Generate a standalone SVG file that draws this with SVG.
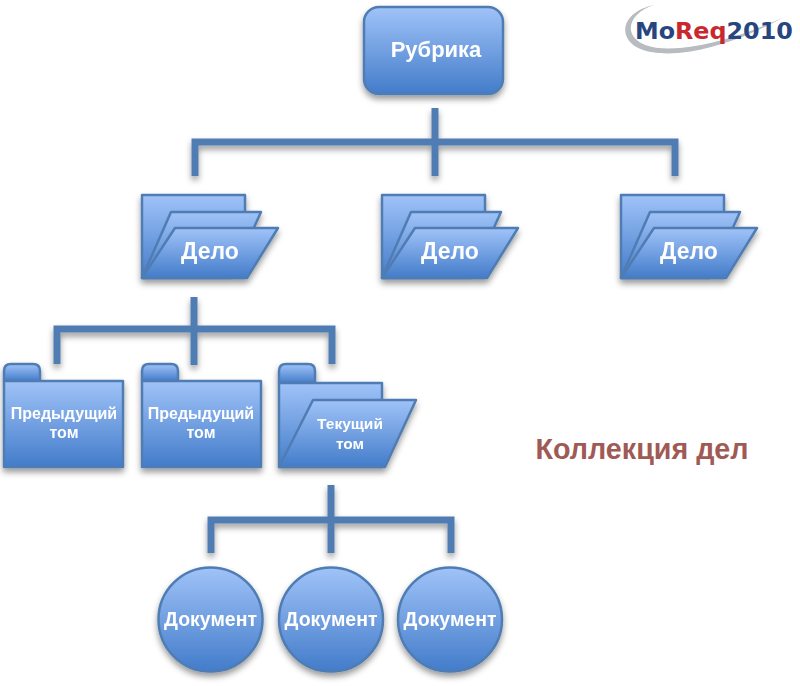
<svg xmlns="http://www.w3.org/2000/svg" width="800" height="686" viewBox="0 0 800 686">
<style>
.n{fill:url(#g);stroke:#4f7db3;stroke-width:2.5;stroke-linejoin:round}
.c{fill:none;stroke:#4f7db3;stroke-width:7;stroke-linecap:butt;stroke-linejoin:miter}
text{font-family:"Liberation Sans",Arial,sans-serif;font-weight:bold;text-anchor:middle;fill:#fff}
.r{font-size:22px}.l{font-size:23px}.s{font-size:16px}.t{font-size:15.500px}.d{font-size:19.500px}
</style>
<defs>
<linearGradient id="g" x1="0" y1="0" x2="0" y2="1"><stop offset="0" stop-color="#a0c3f8"/><stop offset="1" stop-color="#437cca"/></linearGradient>
<filter id="sh" x="-20%" y="-20%" width="140%" height="140%"><feDropShadow dx="0" dy="4" stdDeviation="3" flood-color="#000" flood-opacity=".4"/></filter>
<g id="case">
<path class="n" d="M142 195H245V278H142Z"/>
<path class="n" d="M142 278L171 212H261L231 278Z"/>
<path class="n" d="M142 278L175 228H278L247 278Z"/>
</g>
<g id="vol">
<path class="n" d="M4 381V371Q4 364 11 364H33Q40 364 40 371V381Z"/>
<rect class="n" x="4" y="381" width="119" height="86"/>
</g>
<circle id="doc" class="n" cx="0" cy="619.500" r="52"/>
</defs>
<g id="connectors" filter="url(#sh)">
<path class="c" d="M435 108V176M195 176V142H675V176"/>
<path class="c" d="M194 297V365M57 364V329H332V364"/>
<path class="c" d="M331 485V553M211 553V520H451V553"/>
</g>
<g id="rubrika" filter="url(#sh)"><rect class="n" x="364" y="7" width="139" height="87" rx="15"/><text class="r" x="436" y="57">Рубрика</text></g>
<g id="case1" filter="url(#sh)"><use href="#case"/><text class="l" x="210" y="259">Дело</text></g>
<g id="case2" filter="url(#sh)"><use href="#case" x="240"/><text class="l" x="450" y="259">Дело</text></g>
<g id="case3" filter="url(#sh)"><use href="#case" x="479"/><text class="l" x="689" y="259">Дело</text></g>
<g id="vol1" filter="url(#sh)"><use href="#vol"/><text class="s" x="64" y="419">Предыдущий</text><text class="s" x="64" y="438">том</text></g>
<g id="vol2" filter="url(#sh)"><use href="#vol" x="138"/><text class="s" x="201" y="419">Предыдущий</text><text class="s" x="201" y="438">том</text></g>
<g id="vol3" filter="url(#sh)">
<path class="n" d="M279 383V371Q279 364 286 364H308Q315 364 315 371V383Z"/>
<path class="n" d="M279 383H382V467H279Z"/>
<path class="n" d="M279 467L313 400H416L385 467Z"/>
<text class="t" x="350" y="429">Текущий</text><text class="t" x="350" y="449">том</text></g>
<g id="doc1" filter="url(#sh)"><use href="#doc" x="210.500"/><text class="d" x="210.500" y="626">Документ</text></g>
<g id="doc2" filter="url(#sh)"><use href="#doc" x="331"/><text class="d" x="331" y="626">Документ</text></g>
<g id="doc3" filter="url(#sh)"><use href="#doc" x="450"/><text class="d" x="450" y="626">Документ</text></g>
<text x="642" y="459" style="font-size:28.700px;fill:#a05a55">Коллекция дел</text>
<g id="logo">
<path d="M654 5C634 9 622 22 626 35C631 50 652 55 678 53C715 50 755 33 784 17C752 32 715 45 680 48C656 50 638 46 632 34C627 22 638 10 654 5Z" fill="#b8bbbf"/>
<text x="635" y="39" style="font-size:23.800px;fill:#27457f;font-family:'DejaVu Sans',sans-serif;text-anchor:start">Mo<tspan fill="#c8282e">Req</tspan>2010</text>
</g>
</svg>
